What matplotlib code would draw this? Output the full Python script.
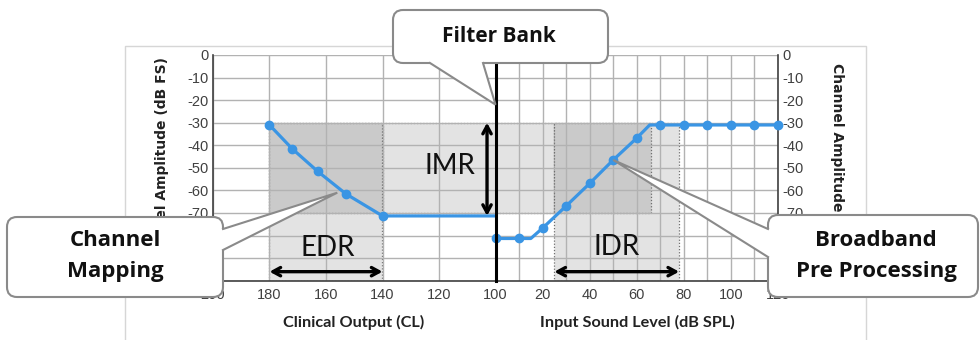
import matplotlib
matplotlib.use("Agg")
import matplotlib.pyplot as plt
from matplotlib.patches import Rectangle, FancyBboxPatch, Polygon

# channel mapping: clinical output (CL) -> channel amplitude (dB FS)
cl_out = [180, 172, 163, 153, 140, 100]
cl_amp = [-31, -41.5, -51.5, -61.5, -71.3, -71.3]
cl_marks = [0, 1, 2, 3, 4]

# broadband pre processing: input level (dB SPL) -> channel amplitude (dB FS)
spl_in = [0, 10, 15, 20, 30, 40, 50, 60, 65.5, 70, 80, 90, 100, 110, 120]
spl_amp = [-81.3, -81.3, -81.3, -76.7, -66.9, -56.9, -46.5, -36.8,
           -31, -31, -31, -31, -31, -31, -31]
spl_marks = [0, 1, 3, 4, 5, 6, 7, 9, 10, 11, 12, 13, 14]

# dynamic ranges
edr = (180, 140)        # electrical dynamic range (CL)
imr = (-30, -70)        # input mapping range (dB FS)
idr = (25, 78)          # input dynamic range (dB SPL)
idr_knee = 66
imr_at = 103
arrow_y = -96

cl_ticks = [200, 180, 160, 140, 120, 100]
spl_ticks = [20, 40, 60, 80, 100, 120]
amp_ticks = list(range(-100, 1, 10))

BLUE = "#3a95e4"
LIGHT = "#e3e3e3"
DARK = "#cacaca"
GRID = "#b2b2b2"
EDGE = "#8a8a8a"
TICK = "#404040"
TICKFONT = ["Liberation Sans Narrow", "Liberation Sans"]

plt.rcParams["axes.unicode_minus"] = False

W, H = 980, 340
fig = plt.figure(figsize=(W / 100, H / 100), dpi=100)


def px_axes(x0, x1, y0, y1, **kw):
    return fig.add_axes([x0 / W, 1 - y1 / H, (x1 - x0) / W, (y1 - y0) / H], **kw)


axL = px_axes(213, 495.5, 55, 280.7)
axR = px_axes(495.5, 778, 55, 280.7)

axL.set_xlim(200, 100)
axR.set_xlim(0, 120)
for ax in (axL, axR):
    ax.set_ylim(-100, 0)
    ax.set_yticks(amp_ticks)
    ax.set_axisbelow("line")
    ax.grid(True, which="both", color=GRID, lw=1.0)
    ax.tick_params(which="both", length=0, labelsize=10.5, labelcolor=TICK)
    ax.spines["top"].set_visible(False)
    for s in ax.spines.values():
        s.set_color(TICK)
        s.set_linewidth(1.2)

axL.set_xticks(cl_ticks)
axL.spines["right"].set_visible(False)
axL.tick_params(axis="y", pad=3)
axL.tick_params(axis="x", pad=5)

axR.set_xticks(spl_ticks)
axR.set_xticks(range(0, 121, 10), minor=True)
axR.yaxis.tick_right()
axR.tick_params(axis="y", pad=3)
axR.tick_params(axis="x", pad=5)
axR.spines["left"].set_color("black")
axR.spines["left"].set_linewidth(2.2)
axR.spines["left"].set_zorder(5)

for ax in (axL, axR):
    for lab in ax.get_xticklabels() + ax.get_yticklabels():
        lab.set_family(TICKFONT)


def shade(ax, x0, x1, y0, y1, fc):
    ax.add_patch(Rectangle((x0, y0), x1 - x0, y1 - y0, fc=fc, ec="#707070",
                           ls=(0, (1, 1.5)), lw=0.9, zorder=1))


# shaded ranges
shade(axL, edr[0], edr[1], -100, imr[0], LIGHT)
shade(axL, edr[1], 100, imr[1], imr[0], LIGHT)
shade(axL, edr[0], edr[1], imr[1], imr[0], DARK)
shade(axR, 0, idr[0], imr[1], imr[0], LIGHT)
shade(axR, idr[0], idr[1], -100, imr[0], LIGHT)
shade(axR, idr[0], idr_knee, imr[1], imr[0], DARK)

# transfer curves
axL.plot(cl_out, cl_amp, color=BLUE, lw=2.3, marker="o", ms=6,
         markevery=cl_marks, zorder=4, clip_on=False)
axR.plot(spl_in, spl_amp, color=BLUE, lw=2.3, marker="o", ms=6,
         markevery=spl_marks, zorder=4, clip_on=False)

# range arrows
arrow = dict(arrowstyle="<->,head_length=0.55,head_width=0.3", lw=2.4,
             color="black", shrinkA=0, shrinkB=0)
axL.annotate("", xy=(imr_at, imr[0]), xytext=(imr_at, imr[1] - 1.3),
             arrowprops=arrow, zorder=6)
axL.annotate("", xy=(edr[0], arrow_y), xytext=(edr[1], arrow_y),
             arrowprops=arrow, zorder=6)
axR.annotate("", xy=(idr[0], arrow_y), xytext=(idr[1], arrow_y),
             arrowprops=arrow, zorder=6)

big = dict(fontsize=20, family="Lato", ha="center", va="center", color="#111111", zorder=6)
axL.text(116, -49, "IMR", **big)
axL.text(159.5, -85.5, "EDR", **big)
axR.text(51.5, -85, "IDR", **big)

# overlay in pixel units for labels and callouts
ov = fig.add_axes([0, 0, 1, 1], zorder=10)
ov.set_xlim(0, W)
ov.set_ylim(H, 0)
ov.axis("off")


def to_px(ax, x, y):
    return ov.transData.inverted().transform(ax.transData.transform((x, y)))


ov.plot([125, 125, 866, 866], [H, 46, 46, H], color="#d6d6d6", lw=1, zorder=0)

lab = dict(fontsize=11.7, family="Lato", fontweight="bold", color="#222222", zorder=1)
ov.text(354, 322, "Clinical Output (CL)", ha="center", va="center", **lab)
ov.text(637, 322, "Input Sound Level (dB SPL)", ha="center", va="center", **lab)

ylab = dict(fontsize=10, family="DejaVu Sans", fontweight="bold", color="#222222", zorder=1)
ov.text(162, 57, "Channel Amplitude (dB FS)", rotation=90, ha="center", va="top", **ylab)
ov.text(837, 63, "Channel Amplitude (dB FS)", rotation=270, ha="center", va="top", **ylab)


def callout(x0, y0, x1, y1, b1, b2, inward, tip, lines, fs):
    ov.add_patch(FancyBboxPatch((x0, y0), x1 - x0, y1 - y0,
                                boxstyle="round,pad=0,rounding_size=10",
                                fc="white", ec=EDGE, lw=1.5, zorder=5))
    dx, dy = inward[0] * 4, inward[1] * 4
    ov.add_patch(Polygon([(b1[0] + dx, b1[1] + dy), b1, tip, b2, (b2[0] + dx, b2[1] + dy)],
                         closed=True, fc="white", ec="none", zorder=6))
    ov.plot([b1[0], tip[0], b2[0]], [b1[1], tip[1], b2[1]], color=EDGE, lw=1.5,
            zorder=7, solid_joinstyle="miter")
    for text, tx, ty in lines:
        ov.text(tx, ty, text, fontsize=fs, family="Open Sans", fontweight="bold",
                color="#111111", ha="center", va="center", zorder=8)


callout(393, 10, 608, 63, (430, 63), (483, 63), (0, -1), to_px(axR, 0, -22),
        [("Filter Bank", 499, 36)], 15)
callout(7, 217, 223, 297, (223, 229), (223, 250), (-1, 0), to_px(axL, 156, -61),
        [("Channel", 115, 241), ("Mapping", 115, 272)], 16)
callout(768, 215, 978, 297, (768, 229), (768, 257), (1, 0), to_px(axR, 50, -46.5),
        [("Broadband", 876, 241), ("Pre Processing", 876, 272)], 16)

fig.savefig("out.png", dpi=100)
